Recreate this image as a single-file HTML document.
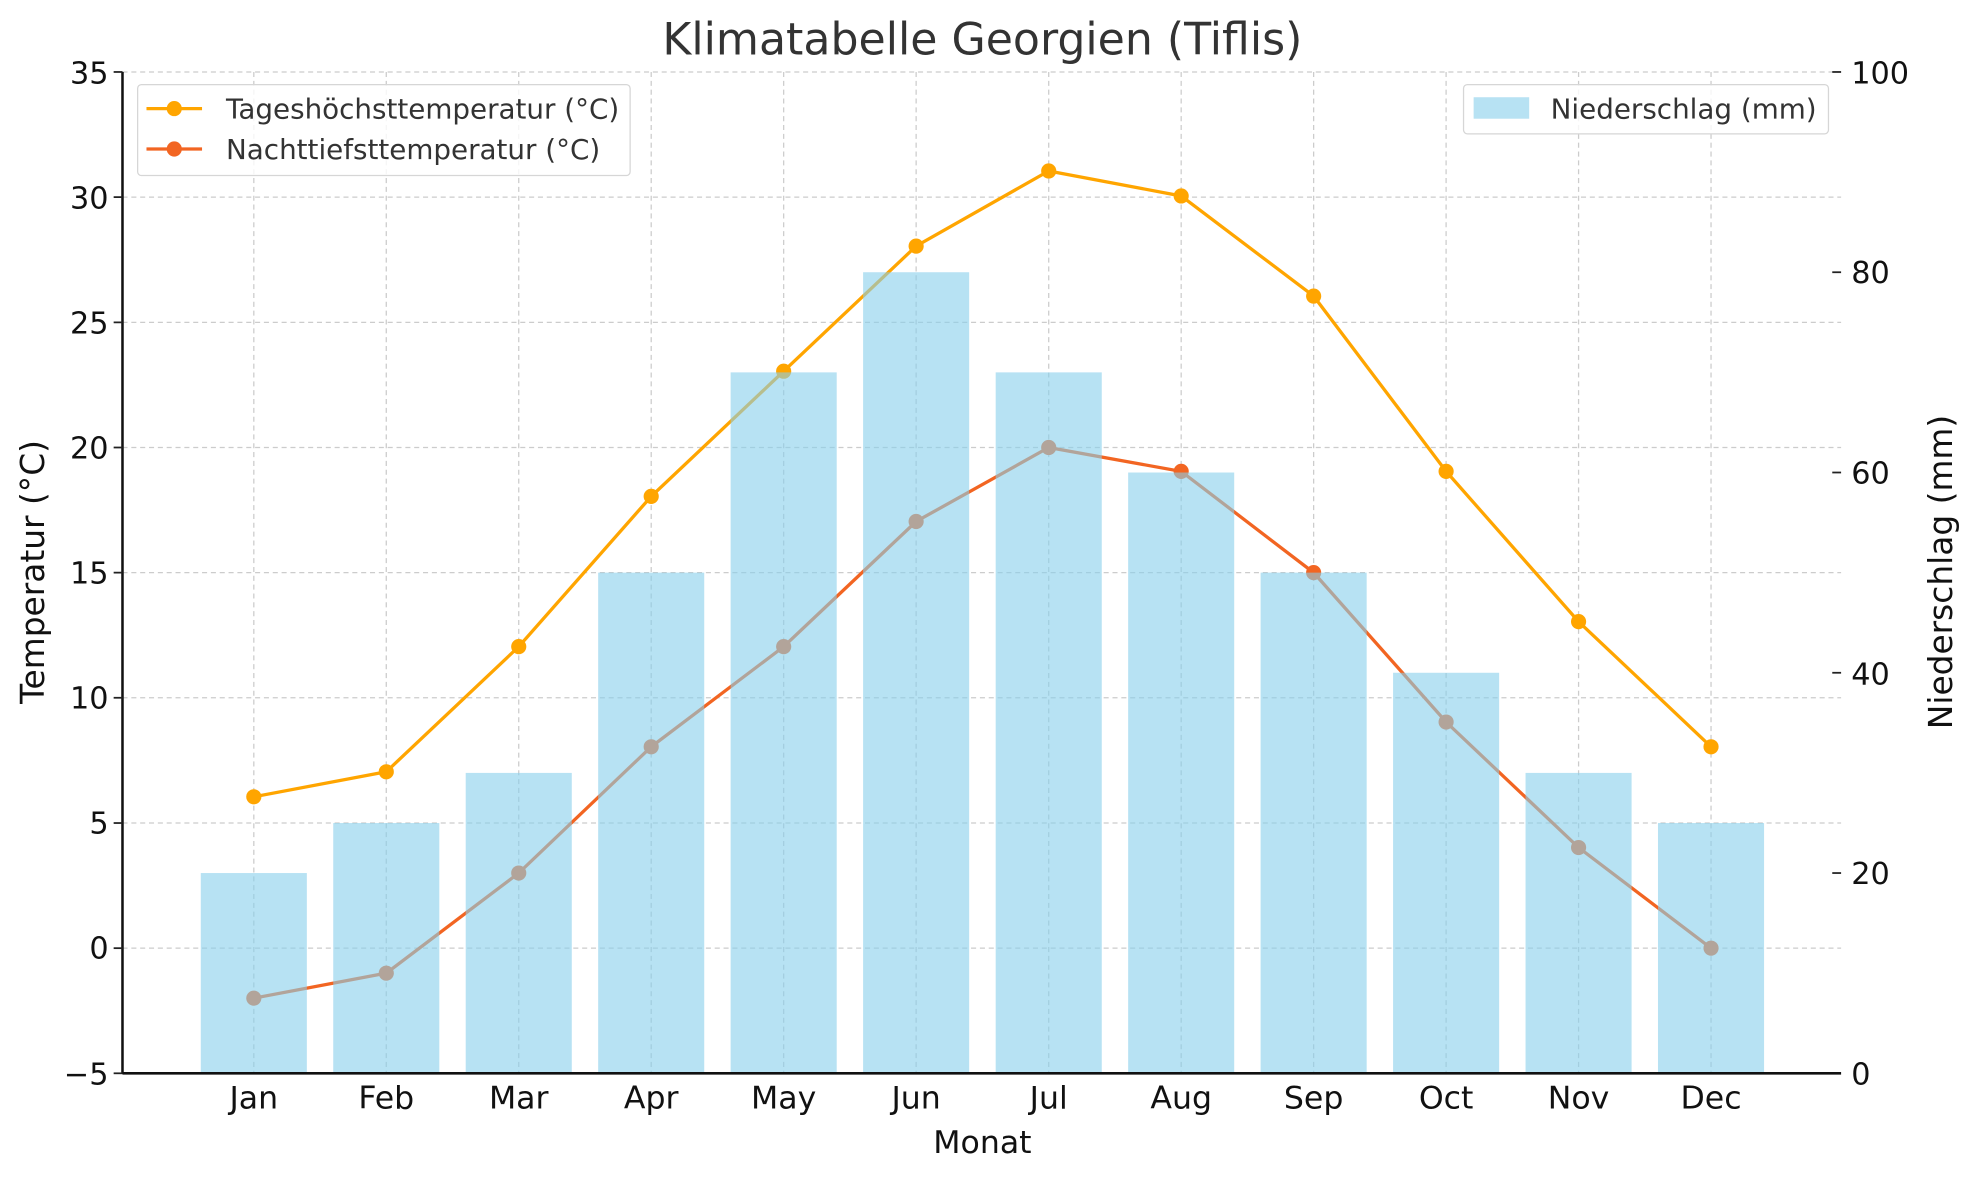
<!DOCTYPE html>
<html><head><meta charset="utf-8"><style>html,body{margin:0;padding:0;background:#fff}svg{display:block}</style></head>
<body>
<svg width="1980" height="1180" viewBox="0 0 1568 934.5" preserveAspectRatio="none" xmlns="http://www.w3.org/2000/svg" font-family="'DejaVu Sans','Liberation Sans',sans-serif">
<rect width="1568" height="934.5" fill="#fff"/>
<g stroke="#cccccc" stroke-width="1" stroke-dasharray="4,3">
<line x1="97" x2="1458" y1="57" y2="57"/><line x1="97" x2="1458" y1="156.1" y2="156.1"/><line x1="97" x2="1458" y1="255.3" y2="255.3"/><line x1="97" x2="1458" y1="354.4" y2="354.4"/><line x1="97" x2="1458" y1="453.5" y2="453.5"/><line x1="97" x2="1458" y1="552.6" y2="552.6"/><line x1="97" x2="1458" y1="651.8" y2="651.8"/><line x1="97" x2="1458" y1="750.9" y2="750.9"/>
<line x1="201" x2="201" y1="57" y2="850"/><line x1="305.9" x2="305.9" y1="57" y2="850"/><line x1="410.8" x2="410.8" y1="57" y2="850"/><line x1="515.7" x2="515.7" y1="57" y2="850"/><line x1="620.6" x2="620.6" y1="57" y2="850"/><line x1="725.5" x2="725.5" y1="57" y2="850"/><line x1="830.5" x2="830.5" y1="57" y2="850"/><line x1="935.4" x2="935.4" y1="57" y2="850"/><line x1="1040.3" x2="1040.3" y1="57" y2="850"/><line x1="1145.2" x2="1145.2" y1="57" y2="850"/><line x1="1250.1" x2="1250.1" y1="57" y2="850"/><line x1="1355" x2="1355" y1="57" y2="850"/>
</g>
<polyline fill="none" stroke="#FFA500" stroke-width="2.6" points="201,631 305.9,611.2 410.8,512.1 515.7,393.1 620.6,294 725.5,194.9 830.5,135.4 935.4,155.2 1040.3,234.5 1145.2,373.3 1250.1,492.3 1355,591.4"/>
<g fill="#FFA500"><circle cx="201" cy="631" r="6"/><circle cx="305.9" cy="611.2" r="6"/><circle cx="410.8" cy="512.1" r="6"/><circle cx="515.7" cy="393.1" r="6"/><circle cx="620.6" cy="294" r="6"/><circle cx="725.5" cy="194.9" r="6"/><circle cx="830.5" cy="135.4" r="6"/><circle cx="935.4" cy="155.2" r="6"/><circle cx="1040.3" cy="234.5" r="6"/><circle cx="1145.2" cy="373.3" r="6"/><circle cx="1250.1" cy="492.3" r="6"/><circle cx="1355" cy="591.4" r="6"/></g>
<polyline fill="none" stroke="#F26522" stroke-width="2.6" points="201,790.5 305.9,770.7 410.8,691.4 515.7,591.4 620.6,512.1 725.5,413 830.5,354.4 935.4,373.3 1040.3,453.5 1145.2,571.8 1250.1,671.2 1355,750.9"/>
<g fill="#F26522"><circle cx="201" cy="790.5" r="6"/><circle cx="305.9" cy="770.7" r="6"/><circle cx="410.8" cy="691.4" r="6"/><circle cx="515.7" cy="591.4" r="6"/><circle cx="620.6" cy="512.1" r="6"/><circle cx="725.5" cy="413" r="6"/><circle cx="830.5" cy="354.4" r="6"/><circle cx="935.4" cy="373.3" r="6"/><circle cx="1040.3" cy="453.5" r="6"/><circle cx="1145.2" cy="571.8" r="6"/><circle cx="1250.1" cy="671.2" r="6"/><circle cx="1355" cy="750.9" r="6"/></g>
<g fill="#87CEEB" fill-opacity="0.6">
<rect x="159" y="691.4" width="84" height="158.6"/><rect x="263.9" y="651.8" width="84" height="198.2"/><rect x="368.8" y="612.1" width="84" height="237.9"/><rect x="473.7" y="453.5" width="84" height="396.5"/><rect x="578.6" y="294.9" width="84" height="555.1"/><rect x="683.5" y="215.6" width="84" height="634.4"/><rect x="788.5" y="294.9" width="84" height="555.1"/><rect x="893.4" y="374.2" width="84" height="475.8"/><rect x="998.3" y="453.5" width="84" height="396.5"/><rect x="1103.2" y="532.8" width="84" height="317.2"/><rect x="1208.1" y="612.1" width="84" height="237.9"/><rect x="1313" y="651.8" width="84" height="198.2"/>
</g>
<g stroke="#111" stroke-width="2">
<line x1="97" x2="97" y1="57" y2="850"/><line x1="97" x2="1458" y1="850" y2="850"/>
</g>
<g stroke="#222" stroke-width="1.4">
<line x1="90" x2="97" y1="57" y2="57"/><line x1="90" x2="97" y1="156.1" y2="156.1"/><line x1="90" x2="97" y1="255.3" y2="255.3"/><line x1="90" x2="97" y1="354.4" y2="354.4"/><line x1="90" x2="97" y1="453.5" y2="453.5"/><line x1="90" x2="97" y1="552.6" y2="552.6"/><line x1="90" x2="97" y1="651.8" y2="651.8"/><line x1="90" x2="97" y1="750.9" y2="750.9"/><line x1="90" x2="97" y1="850" y2="850"/>
<line x1="1451" x2="1458" y1="57" y2="57"/><line x1="1451" x2="1458" y1="215.6" y2="215.6"/><line x1="1451" x2="1458" y1="374.2" y2="374.2"/><line x1="1451" x2="1458" y1="532.8" y2="532.8"/><line x1="1451" x2="1458" y1="691.4" y2="691.4"/>
</g>
<g font-size="24" fill="#111" text-anchor="end">
<text x="86" y="66">35</text><text x="86" y="165">30</text><text x="86" y="264">25</text><text x="86" y="363">20</text><text x="86" y="462">15</text><text x="86" y="561">10</text><text x="86" y="660">5</text><text x="86" y="759">0</text><text x="86" y="859">−5</text>
</g>
<g font-size="24" fill="#111">
<text x="1466" y="66">100</text><text x="1466" y="224">80</text><text x="1466" y="383">60</text><text x="1466" y="542">40</text><text x="1466" y="700">20</text><text x="1466" y="859">0</text>
</g>
<g font-size="25" fill="#111" text-anchor="middle">
<text x="201" y="878">Jan</text><text x="305.9" y="878">Feb</text><text x="410.8" y="878">Mar</text><text x="515.7" y="878">Apr</text><text x="620.6" y="878">May</text><text x="725.5" y="878">Jun</text><text x="830.5" y="878">Jul</text><text x="935.4" y="878">Aug</text><text x="1040.3" y="878">Sep</text><text x="1145.2" y="878">Oct</text><text x="1250.1" y="878">Nov</text><text x="1355" y="878">Dec</text>
<text x="778" y="913">Monat</text>
<text x="778" y="43" font-size="35" fill="#333">Klimatabelle Georgien (Tiflis)</text>
<text transform="translate(35,453) rotate(-90)" font-size="26">Temperatur (°C)</text>
<text transform="translate(1546,453) rotate(-90)" font-size="26">Niederschlag (mm)</text>
</g>
<rect x="109" y="67" width="390" height="72" rx="3" fill="#fff" fill-opacity="0.8" stroke="#d6d6d6"/>
<line x1="116" x2="160" y1="86" y2="86" stroke="#FFA500" stroke-width="2.6"/><circle cx="138" cy="86" r="6" fill="#FFA500"/>
<line x1="116" x2="160" y1="118" y2="118" stroke="#F26522" stroke-width="2.6"/><circle cx="138" cy="118" r="6" fill="#F26522"/>
<text x="179" y="94" font-size="22" fill="#333">Tageshöchsttemperatur (°C)</text>
<text x="179" y="126" font-size="22" fill="#333">Nachttiefsttemperatur (°C)</text>
<rect x="1159" y="67" width="289" height="39" rx="3" fill="#fff" fill-opacity="0.8" stroke="#d6d6d6"/>
<rect x="1167" y="77" width="44" height="17" fill="#87CEEB" fill-opacity="0.6"/>
<text x="1228" y="94" font-size="22" fill="#333">Niederschlag (mm)</text>
</svg>
</body></html>
